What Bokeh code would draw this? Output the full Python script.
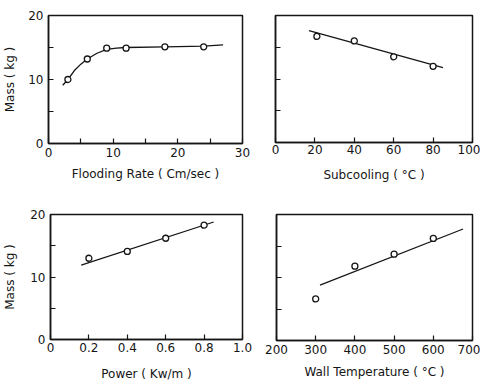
from bokeh.plotting import figure
from bokeh.layouts import column, row
from bokeh.models import FixedTicker, Range1d
from bokeh.embed import file_html
from bokeh.resources import INLINE

# ---- data ----
flow_x = [3, 6, 9, 12, 18, 24]
flow_mass = [10.0, 13.2, 14.9, 14.9, 15.1, 15.1]
flow_fit_x = [2.2, 3, 4, 5, 6, 7.5, 9, 10.5, 12, 18, 24, 27]
flow_fit_y = [9.1, 10.0, 11.4, 12.4, 13.2, 14.1, 14.7, 14.9, 15.0, 15.1, 15.2, 15.4]

sub_x = [21, 40, 60, 80]
sub_mass = [16.7, 16.0, 13.5, 12.0]
sub_fit_x = [17, 85]
sub_fit_y = [17.6, 11.8]

pow_x = [0.2, 0.4, 0.6, 0.8]
pow_mass = [13.0, 14.1, 16.2, 18.3]
pow_fit_x = [0.16, 0.85]
pow_fit_y = [11.9, 18.8]

wall_x = [300, 400, 500, 600]
wall_mass = [6.6, 11.8, 13.7, 16.2]
wall_fit_x = [311, 676]
wall_fit_y = [8.8, 17.7]

mass_ticks = [0, 10, 20]
mass_minor = [5, 15]
mass_labels = ["0", "10", "20"]
mass_unlabelled = [5, 10, 15]

flow_ticks = [0, 10, 20, 30]
flow_minor = [5, 15, 25]
flow_labels = ["0", "10", "20", "30"]

sub_ticks = [0, 20, 40, 60, 80, 100]
sub_labels = ["0", "20", "40", "60", "80", "100"]

pow_ticks = [0, 0.2, 0.4, 0.6, 0.8, 1.0]
pow_labels = ["0", "0.2", "0.4", "0.6", "0.8", "1.0"]

wall_ticks = [200, 300, 400, 500, 600, 700]
wall_labels = ["200", "300", "400", "500", "600", "700"]

FONT = "DejaVu Sans"
INK = "#151515"


def panel(xr, xt, xminor, xlabels, xlabel, ylabel, show_y,
          fw, fh, bl, br, bt, bb, mls, als, yals=8):
    p = figure(x_range=Range1d(*xr), y_range=Range1d(0, 20),
               frame_width=fw, frame_height=fh,
               min_border_left=bl, min_border_right=br,
               min_border_top=bt, min_border_bottom=bb,
               output_backend="svg", toolbar_location=None)
    p.grid.visible = False
    p.outline_line_color = INK
    p.outline_line_width = 1.5
    p.background_fill_color = "white"
    p.border_fill_color = "white"

    xa = p.xaxis[0]
    ya = p.yaxis[0]
    xa.ticker = FixedTicker(ticks=xt, minor_ticks=xminor)
    xa.major_label_overrides = {t: l for t, l in zip(xt, xlabels)}
    if show_y:
        ya.ticker = FixedTicker(ticks=mass_ticks, minor_ticks=mass_minor)
        ya.major_label_overrides = {t: l for t, l in zip(mass_ticks, mass_labels)}
    else:
        ya.ticker = FixedTicker(ticks=[], minor_ticks=mass_unlabelled)
    for a in (xa, ya):
        a.axis_line_color = INK
        a.axis_line_width = 1.5
        a.major_tick_in = 5
        a.major_tick_out = 0
        a.minor_tick_in = 5
        a.minor_tick_out = 0
        a.major_tick_line_color = INK
        a.minor_tick_line_color = INK
        a.major_tick_line_width = 1.2
        a.minor_tick_line_width = 1.2
        a.major_label_text_font = FONT
        a.major_label_text_font_size = "12px"
        a.major_label_text_color = INK
        a.axis_label_text_font = FONT
        a.axis_label_text_font_size = "12px"
        a.axis_label_text_font_style = "normal"
        a.axis_label_text_color = INK
    xa.axis_label = xlabel
    xa.major_label_standoff = mls
    xa.axis_label_standoff = als
    if show_y:
        ya.axis_label = ylabel
        ya.major_label_standoff = 5
        ya.axis_label_standoff = yals
    else:
        ya.major_label_standoff = 0
    return p


def draw(p, fx, fy, px, py):
    p.line(fx, fy, line_color=INK, line_width=1.3)
    p.scatter(px, py, marker="circle", size=6, fill_color="white",
              line_color=INK, line_width=1.3)


tl = panel((0, 30), flow_ticks, flow_minor, flow_labels,
           "Flooding Rate ( Cm/sec )", "Mass ( kg )", True,
           194, 128, 48, 14, 12, 52, 4, 7, 8)
draw(tl, flow_fit_x, flow_fit_y, flow_x, flow_mass)

tr = panel((0, 100), sub_ticks, [], sub_labels,
           "Subcooling ( °C )", "", False,
           197, 127, 19, 8, 15, 50, 2, 11)
draw(tr, sub_fit_x, sub_fit_y, sub_x, sub_mass)

bl = panel((0, 1.0), pow_ticks, [], pow_labels,
           "Power ( Kw/m )", "Mass ( kg )", True,
           192, 125, 50, 14, 22, 42, 3, 12, 10)
draw(bl, pow_fit_x, pow_fit_y, pow_x, pow_mass)

br = panel((200, 700), wall_ticks, [], wall_labels,
           "Wall Temperature ( °C )", "", False,
           196, 126, 20, 8, 20, 43, 4, 8)
draw(br, wall_fit_x, wall_fit_y, wall_x, wall_mass)

layout = column(row(tl, tr), row(bl, br))
open("out.html", "w").write(file_html(layout, INLINE))
